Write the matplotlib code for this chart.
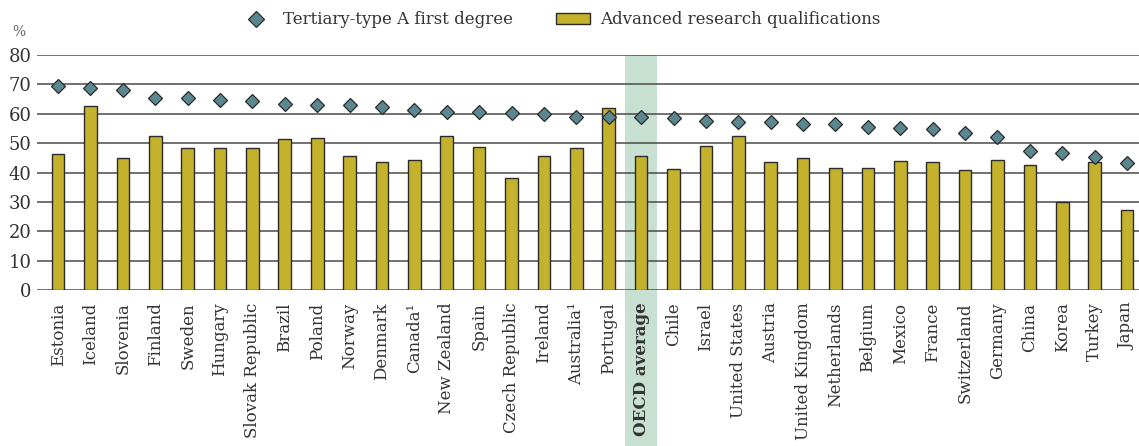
import matplotlib
matplotlib.use("Agg")
import matplotlib.pyplot as plt
import matplotlib.transforms as mtransforms
from matplotlib.patches import Rectangle, Patch
from matplotlib.lines import Line2D

plt.rcParams['font.family'] = ['DejaVu Serif']

countries = ["Estonia", "Iceland", "Slovenia", "Finland", "Sweden", "Hungary",
             "Slovak Republic", "Brazil", "Poland", "Norway", "Denmark", "Canada¹",
             "New Zealand", "Spain", "Czech Republic", "Ireland", "Australia¹",
             "Portugal", "OECD average", "Chile", "Israel", "United States",
             "Austria", "United Kingdom", "Netherlands", "Belgium", "Mexico",
             "France", "Switzerland", "Germany", "China", "Korea", "Turkey", "Japan"]

tertiary_a = [69.5, 68.8, 68.0, 65.3, 65.3, 64.7, 64.5, 63.4, 63.1, 63.1, 62.2, 61.2,
              60.7, 60.5, 60.4, 59.8, 59.0, 58.9, 58.9, 58.7, 57.4, 57.3,
              57.1, 56.6, 56.5, 55.5, 55.3, 54.8, 53.6, 52.0, 47.3, 46.5, 45.3, 43.2]

advanced = [46.2, 62.5, 44.8, 52.3, 48.2, 48.5, 48.2, 51.3, 51.9, 45.7, 43.5, 44.4,
            52.5, 48.8, 38.0, 45.6, 48.5, 61.8, 45.7, 41.1, 49.1, 52.3,
            43.5, 44.8, 41.5, 41.4, 43.9, 43.6, 40.7, 44.1, 42.6, 30.1, 43.6, 27.2]

yticks = [0, 10, 20, 30, 40, 50, 60, 70, 80]
highlight = "OECD average"

BAR_C = "#C4B22C"
DIA_C = "#5B8790"
BAND_C = "#C8E0D2"
EDGE_C = "#2b2b2b"
TEXT_C = "#333333"

W, H = 1139, 446
fig = plt.figure(figsize=(W / 100, H / 100), dpi=100)
ax = fig.add_axes([37 / W, 1 - 290 / H, 1 - 37 / W, (290 - 55) / H])
ax.set_zorder(2)
ax.patch.set_alpha(0)

x = list(range(len(countries)))
hi = countries.index(highlight)

# highlight band, from axis top down to bottom of figure
trans = mtransforms.blended_transform_factory(ax.transData, fig.transFigure)
band = Rectangle((hi - 0.5, 0), 1.0, 1 - 55 / H, transform=trans,
                 facecolor=BAND_C, edgecolor="none", zorder=0.5)
fig.add_artist(band)

for yv in yticks:
    ax.axhline(yv, color="#4a4a4a", lw=1.1, zorder=1)

ax.bar(x, advanced, width=0.39, color=BAR_C, edgecolor=EDGE_C, linewidth=1.0, zorder=2)
ax.plot(x, tertiary_a, linestyle="none", marker="D", markersize=6.8,
        markerfacecolor=DIA_C, markeredgecolor=EDGE_C, markeredgewidth=0.9, zorder=3)

ax.set_xlim(-0.65, len(countries) - 1 + 0.37)
ax.set_ylim(0, 80)
ax.set_yticks(yticks)
ax.set_yticklabels([str(v) for v in yticks], fontsize=13, color=TEXT_C)
ax.set_xticks(x)
ax.set_xticklabels(countries, rotation=90, fontsize=12, color=TEXT_C)
for lbl in ax.get_xticklabels():
    if lbl.get_text() == highlight:
        lbl.set_fontweight("bold")
ax.tick_params(axis="both", length=0)
ax.tick_params(axis="y", pad=4)
ax.tick_params(axis="x", pad=9)
for s in ax.spines.values():
    s.set_visible(False)

fig.text(12 / W, 1 - 32 / H, "%", fontsize=10, color="#666666", ha="left", va="center")

handles = [Line2D([], [], linestyle="none", marker="D", markersize=8,
                  markerfacecolor=DIA_C, markeredgecolor=EDGE_C, markeredgewidth=0.9),
           Patch(facecolor=BAR_C, edgecolor=EDGE_C, linewidth=1.0)]
fig.legend(handles, ["Tertiary-type A first degree", "Advanced research qualifications"],
           loc="center", bbox_to_anchor=(560 / W, 1 - 20 / H), ncol=2, frameon=False,
           fontsize=12, handlelength=2.0, handleheight=0.6, columnspacing=2.6,
           handletextpad=0.6, labelcolor=TEXT_C)

fig.savefig("out.png", dpi=100)
